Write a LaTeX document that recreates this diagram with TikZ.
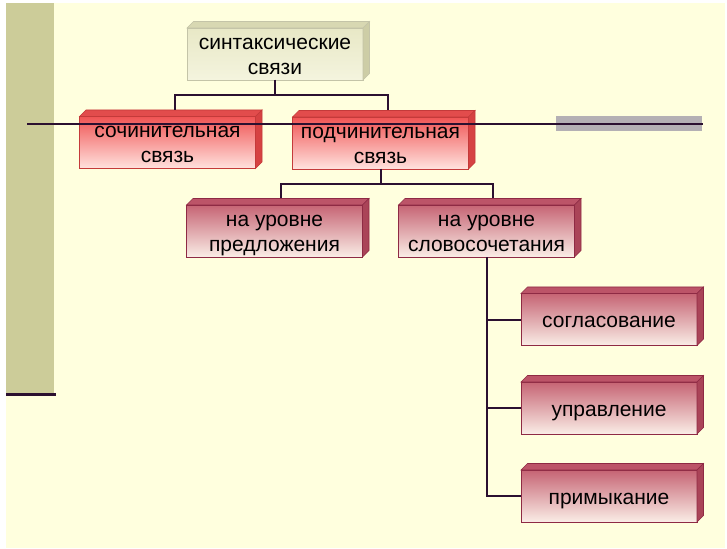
\documentclass[tikz,border=0pt]{standalone}
\usepackage{fontspec}
\setmainfont{Liberation Sans}
\usetikzlibrary{positioning,calc}
\definecolor{cream}{HTML}{FFFFDE}
\definecolor{olive}{HTML}{CCCC99}
\definecolor{ink}{HTML}{2B1030}
\definecolor{bar}{HTML}{B4B0B4}
\definecolor{beige}{HTML}{E8E8C6}
\definecolor{beigelt}{HTML}{F4F4DE}
\definecolor{beigetop}{HTML}{D8D8B2}
\definecolor{beigeside}{HTML}{CDCDA6}
\definecolor{beigeline}{HTML}{C4C4A8}
\definecolor{redtop}{HTML}{F05454}
\definecolor{redbot}{HTML}{FFE2DE}
\definecolor{redface}{HTML}{E24C4C}
\definecolor{redside}{HTML}{D64242}
\definecolor{redline}{HTML}{C43A3A}
\definecolor{mautop}{HTML}{C66474}
\definecolor{maubot}{HTML}{FAEDE6}
\definecolor{mauface}{HTML}{BC5468}
\definecolor{mauside}{HTML}{AA4458}
\definecolor{mauline}{HTML}{8E2A44}
\newcommand*{\hi}{\rule{0pt}{21bp}}
\newcommand*{\slab}[3]{%
  \filldraw[#2] (#1.north west) -- ++(6.5bp,6.5bp) -- ([shift={(6.5bp,6.5bp)}]#1.north east) -- (#1.north east) -- cycle;
  \filldraw[#3] (#1.north east) -- ++(6.5bp,6.5bp) -- ([shift={(6.5bp,6.5bp)}]#1.south east) -- (#1.south east) -- cycle;
}
\tikzset{
  box/.style={minimum width=176bp,minimum height=52bp,inner sep=0pt,outer sep=0pt,
    align=center,line width=.6bp,font=\fontsize{21bp}{25bp}\selectfont,
    execute at end node={\rule[-5bp]{0pt}{5bp}}},
  topbox/.style={box,draw=beigeline,top color=beige,bottom color=beigelt},
  redbox/.style={box,draw=redline,top color=redtop,bottom color=redbot},
  maubox/.style={box,draw=mauline,top color=mautop,bottom color=maubot},
  conn/.style={draw=ink,line width=2bp}
}

\begin{document}
\begin{tikzpicture}[x=1bp,y=-1bp]
\useasboundingbox (0,0) rectangle (727,549);
\fill[white] (0,0) rectangle (727,549);
\fill[cream] (6,3) rectangle (725,548);
\fill[olive] (6,3) rectangle (54,393);
\draw[ink,line width=3bp] (6,394.5) -- (56,394.5);

\node[topbox] (syn) at (275,54) {\hi синтаксические\\связи};
\node[redbox] (sochin) at (167.5,142.5) {\hi сочинительная\\связь};
\node[redbox] (podchin) at (380.5,143) {\hi подчинительная\\связь};
\node[maubox] (predl) at (274.5,231) {\hi на уровне\\предложения};
\node[maubox] (slovo) at (486.5,231) {\hi на уровне\\словосочетания};
\node[maubox] (sogl) at (609,319.5) {\hi согласование};
\node[maubox] (uprav) at (609,408) {\hi управление};
\node[maubox] (prim) at (609,496) {\hi примыкание};

\slab{syn}{fill=beigetop,draw=beigeline,line width=.6bp}{fill=beigeside,draw=beigeline,line width=.6bp}
\foreach \n in {sochin,podchin}
  {\slab{\n}{fill=redface,draw=redline,line width=.6bp}{fill=redside,draw=redline,line width=.6bp}}
\foreach \n in {predl,slovo,sogl,uprav,prim}
  {\slab{\n}{fill=mauface,draw=mauline,line width=.6bp}{fill=mauside,draw=mauline,line width=.6bp}}

\draw[conn] (syn.south) -- ++(0,15) -| ([xshift=7bp,yshift=6.5bp]sochin.north);
\draw[conn] (syn.south) -- ++(0,15) -| ([xshift=7bp,yshift=6.5bp]podchin.north);
\draw[conn] (podchin.south) -- ++(0,15) -| ([xshift=6.5bp,yshift=6.5bp]predl.north);
\draw[conn] (podchin.south) -- ++(0,15) -| ([xshift=6.5bp,yshift=6.5bp]slovo.north);
\draw[conn] (slovo.south) |- (sogl.west);
\draw[conn] (slovo.south) |- (uprav.west);
\draw[conn] (slovo.south) |- (prim.west);

\fill[bar] (556,116) rectangle (702,131);
\draw[ink,line width=2.5bp] (27,124) -- (703,124);
\end{tikzpicture}
\end{document}
